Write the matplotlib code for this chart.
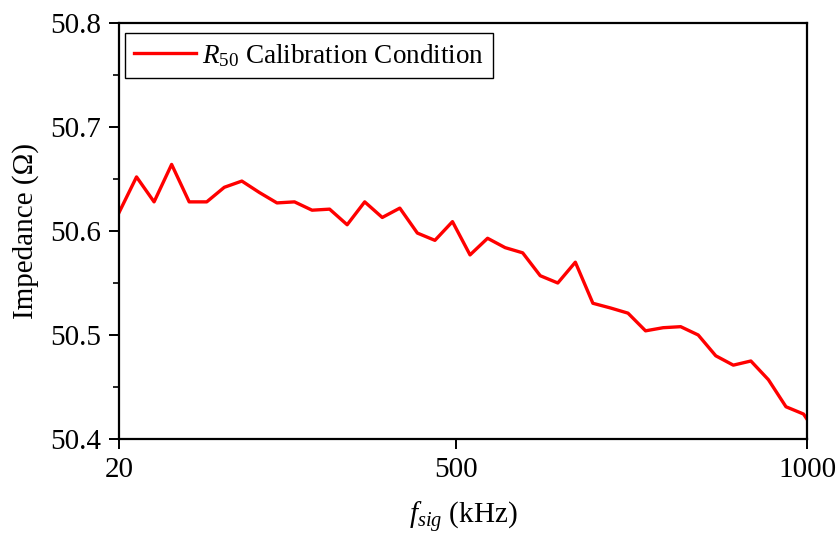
import matplotlib
matplotlib.use("Agg")
import matplotlib.pyplot as plt
from matplotlib.ticker import MultipleLocator

# Signal frequency (kHz) and measured impedance (ohm)
freq_khz = [20, 45, 70, 95, 120, 145, 170, 195, 220, 245,
            270, 295, 320, 345, 370, 395, 420, 445, 470, 495,
            520, 545, 570, 595, 620, 645, 670, 695, 720, 745,
            770, 795, 820, 845, 870, 895, 920, 945, 970, 995, 1000]
impedance = [50.6176, 50.652, 50.628, 50.664, 50.628, 50.628, 50.642, 50.648, 50.637, 50.627,
             50.628, 50.620, 50.621, 50.606, 50.628, 50.613, 50.622, 50.598, 50.591, 50.609,
             50.577, 50.593, 50.584, 50.579, 50.557, 50.550, 50.570, 50.5305, 50.526, 50.521,
             50.504, 50.507, 50.508, 50.500, 50.480, 50.471, 50.475, 50.457, 50.431, 50.424, 50.419]

x_ticks = [20, 500, 1000]
y_ticks = [50.4, 50.5, 50.6, 50.7, 50.8]
series_label = r"$R_{\mathrm{50}}$ Calibration Condition"

plt.rcParams["font.family"] = ["Liberation Serif", "DejaVu Serif"]
plt.rcParams["mathtext.fontset"] = "custom"
plt.rcParams["mathtext.rm"] = "Liberation Serif"
plt.rcParams["mathtext.it"] = "Liberation Serif:italic"
plt.rcParams["mathtext.bf"] = "Liberation Serif:bold"

fig = plt.figure(figsize=(8.39, 5.37), dpi=100)
ax = fig.add_axes([0.1418, 0.1825, 0.9619 - 0.1418, 0.9572 - 0.1825])

ax.plot(freq_khz, impedance, color="#ff0000", lw=2.4, label=series_label)

ax.set_xlim(20, 1000)
ax.set_ylim(50.4, 50.8)
ax.set_xticks(x_ticks)
ax.set_xticklabels([str(t) for t in x_ticks])
ax.set_yticks(y_ticks)
ax.set_yticklabels([f"{t:.1f}" for t in y_ticks])
ax.yaxis.set_minor_locator(MultipleLocator(0.05))

for side in ax.spines.values():
    side.set_linewidth(1.6)

ax.tick_params(axis="both", which="major", direction="out", length=7, width=1.4,
               labelsize=21, top=False, right=False, pad=6)
ax.tick_params(axis="y", which="minor", direction="out", length=4, width=1.2,
               left=True, right=False)
ax.tick_params(axis="x", which="minor", bottom=False, top=False)

ax.set_xlabel(r"$f_{sig}$ (kHz)", fontsize=21, labelpad=12)
ax.set_ylabel("Impedance (Ω)", fontsize=21, labelpad=8)

leg = ax.legend(loc="upper left", bbox_to_anchor=(0.009, 0.976), fontsize=19.5,
                frameon=True, fancybox=False, edgecolor="black", framealpha=1.0,
                handlelength=2.3, handletextpad=0.2, borderpad=0.33, borderaxespad=0.0)
leg.get_frame().set_linewidth(1.0)
leg.get_lines()[0].set_linewidth(2.4)

fig.savefig("out.png", dpi=100)
